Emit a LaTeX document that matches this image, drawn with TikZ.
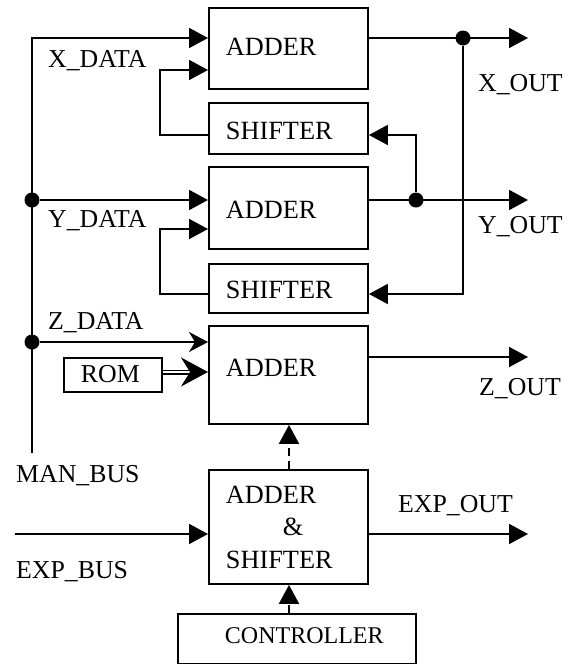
\documentclass[tikz,border=0pt]{standalone}
\usepackage{fontspec}
\setmainfont{Liberation Serif}
\usetikzlibrary{arrows.meta}
\newcommand\boxfnt{\fontsize{26.3}{32.5}\selectfont}
\newcommand\labfnt{\fontsize{25.8}{30}\selectfont}
\newcommand\ctlfnt{\fontsize{24}{28}\selectfont}
\tikzset{
  blk/.style={draw, line width=1.9pt, anchor=north west, inner sep=0pt, font=\boxfnt, align=left},
  lab/.style={anchor=base west, inner sep=0pt, font=\labfnt},
  wire/.style={line width=1.9pt},
  tri/.style={wire, -{Triangle[length=19pt, width=20pt]}},
  stl/.style={wire, -{Stealth[length=19pt, width=20pt, inset=6pt]}},
  dbl/.style={line width=1.2pt, double, double distance=2.6pt, -{Stealth[length=27pt, width=29pt, inset=9pt]}},
  dtri/.style={wire, dash pattern=on 8pt off 5pt, -{Triangle[length=19pt, width=20pt]}},
  jdot/.style={circle, fill, inner sep=0pt, minimum size=15pt}
}
\begin{document}
\begin{tikzpicture}[x=1pt, y=-1pt]
\useasboundingbox (0,0) rectangle (572,664);
% blocks
\node[blk, minimum width=159pt, minimum height=81pt, text width=125pt, text height=17pt, text depth=2pt] (add1) at (208,7) {ADDER};
\node[blk, minimum width=159pt, minimum height=51pt, text width=125pt, text height=23pt, text depth=0pt] (sh1) at (208,102) {SHIFTER};
\node[blk, minimum width=159pt, minimum height=82pt, text width=125pt, text height=22pt, text depth=0pt] (add2) at (208,166) {ADDER};
\node[blk, minimum width=159pt, minimum height=49pt, text width=125pt, text height=21pt, text depth=0pt] (sh2) at (208,263) {SHIFTER};
\node[blk, minimum width=159pt, minimum height=98pt, text width=125pt, text height=17pt, text depth=13pt] (add3) at (208,325) {ADDER};
\node[blk, minimum width=98pt, minimum height=34pt, text width=64pt, text height=17pt, text depth=1pt, font=\labfnt] (rom) at (63,357) {ROM};
\node[blk, minimum width=159pt, minimum height=114pt, text width=125pt] (as) at (208,469) {ADDER\\\hspace*{57pt}\&\\SHIFTER};
\node[blk, minimum width=238pt, minimum height=50pt, text width=144pt, text height=17pt, text depth=7pt, font=\ctlfnt] (ctrl) at (177,613) {CONTROLLER};
% junctions and bends
\coordinate (bustop) at (32,38);
\coordinate (busbot) at (32,453);
\node[jdot] (jy) at (32,200) {};
\node[jdot] (jz) at (32,342) {};
\node[jdot] (jx) at (463,38) {};
\node[jdot] (jyo) at (416,200) {};
\coordinate (f1a) at (160,135);
\coordinate (f1b) at (160,70);
\coordinate (f2a) at (160,294);
\coordinate (f2b) at (160,229);
\coordinate (r1) at (416,135);
\coordinate (r2) at (463,294);
\coordinate (xo) at (528,38);
\coordinate (yo) at (528,200);
\coordinate (zo) at (528,357);
\coordinate (eo) at (528,534);
\coordinate (ei) at (15,534);
\coordinate (dx) at (289,0);
\coordinate (ry) at (0,372);
% bus and inputs
\draw[tri] (busbot) -- (bustop) -- (bustop -| add1.west);
\draw[tri] (jy) -- (jy -| add2.west);
\draw[stl] (jz) -- (jz -| add3.west);
\draw[dbl] (rom.east |- ry) -- (ry -| add3.west);
\draw[tri] (ei) -- (ei -| as.west);
% feedback
\draw[tri] (f1a -| sh1.west) -- (f1a) -- (f1b) -- (f1b -| add1.west);
\draw[tri] (f2a -| sh2.west) -- (f2a) -- (f2b) -- (f2b -| add2.west);
% outputs
\draw[tri] (xo -| add1.east) -- (xo);
\draw[tri] (yo -| add2.east) -- (yo);
\draw[tri] (zo -| add3.east) -- (zo);
\draw[tri] (eo -| as.east) -- (eo);
\draw[tri] (jx) -- (r2) -- (r2 -| sh2.east);
\draw[tri] (jyo) -- (r1) -- (r1 -| sh1.east);
% control
\draw[dtri] (as.north -| dx) -- (add3.south -| dx);
\draw[dtri] (ctrl.north -| dx) -- (as.south -| dx);
% labels
\node[lab] (lxd) at (48,67) {X\_DATA};
\node[lab] (lyd) at (48,227) {Y\_DATA};
\node[lab] (lzd) at (48,329) {Z\_DATA};
\node[lab] (lmb) at (16,482) {MAN\_BUS};
\node[lab] (leb) at (16,578) {EXP\_BUS};
\node[lab] (lxo) at (478,91) {X\_OUT};
\node[lab] (lyo) at (478,233) {Y\_OUT};
\node[lab] (lzo) at (479,395) {Z\_OUT};
\node[lab] (leo) at (398,512) {EXP\_OUT};
\end{tikzpicture}
\end{document}
